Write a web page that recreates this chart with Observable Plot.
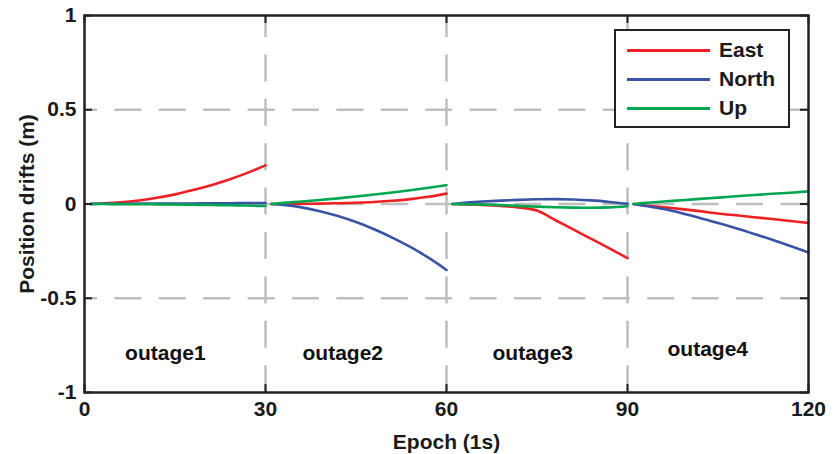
<!DOCTYPE html>
<html>
<head>
<meta charset="utf-8">
<script src="https://cdn.jsdelivr.net/npm/d3@7"></script>
<script src="https://cdn.jsdelivr.net/npm/@observablehq/plot@0.6"></script>
<style>
  html, body { margin: 0; padding: 0; background: #fff; }
  #wrap { position: relative; width: 839px; height: 454px; font-family: "Liberation Sans", Arial, sans-serif; }
  #legend { position: absolute; left: 614px; top: 29px; width: 172px; height: 95px; border: 2.5px solid #222; background: #fff; }
  .row { position: absolute; left: 0; height: 24px; display: flex; align-items: center; }
  .sw { width: 83px; height: 3px; margin-left: 11px; }
  .lab { margin-left: 9px; font-size: 21px; font-weight: bold; color: #1a1a1a; }
</style>
</head>
<body>
<div id="wrap"><div id="legend"></div></div>
<script>
// ---- data ----
const seriesNames = ["East", "North", "Up"];
const seriesColors = ["#ed2024", "#3953a5", "#00a650"];
const outageNames = ["outage1", "outage2", "outage3", "outage4"];
const outageStarts = [0, 30, 60, 90];
const epochOffsets = [1, 3, 6, 9, 12, 15, 18, 21, 24, 27, 30];
const outageLabelX = [13.4, 42.8, 74.3, 103.3];
const outageLabelY = [-0.79, -0.79, -0.79, -0.77];

const east = [
  [0, 0.003, 0.009, 0.019, 0.033, 0.051, 0.074, 0.100, 0.130, 0.165, 0.205],
  [0, 0.000, 0.001, 0.002, 0.004, 0.007, 0.011, 0.017, 0.026, 0.038, 0.055],
  [0, -0.002, -0.005, -0.010, -0.018, -0.035, -0.085, -0.135, -0.185, -0.235, -0.287],
  [0, -0.008, -0.017, -0.027, -0.038, -0.050, -0.060, -0.070, -0.080, -0.090, -0.100]
];
const north = [
  [0, 0.001, 0.001, 0.002, 0.002, 0.003, 0.003, 0.004, 0.004, 0.005, 0.005],
  [0, -0.005, -0.018, -0.038, -0.064, -0.096, -0.134, -0.178, -0.228, -0.285, -0.350],
  [0, 0.007, 0.013, 0.018, 0.022, 0.025, 0.026, 0.024, 0.019, 0.011, 0.001],
  [0, -0.010, -0.027, -0.049, -0.074, -0.101, -0.129, -0.159, -0.190, -0.223, -0.257]
];
const up = [
  [0, 0.000, -0.001, -0.001, -0.002, -0.003, -0.004, -0.005, -0.007, -0.008, -0.011],
  [0, 0.006, 0.013, 0.021, 0.030, 0.040, 0.050, 0.061, 0.073, 0.086, 0.100],
  [0, -0.001, -0.003, -0.006, -0.010, -0.014, -0.017, -0.019, -0.020, -0.018, -0.012],
  [0, 0.006, 0.013, 0.020, 0.027, 0.034, 0.041, 0.048, 0.054, 0.060, 0.067]
];

const xTicks = [0, 30, 60, 90, 120];
const xTickLabels = ["0", "30", "60", "90", "120"];
const yTicks = [-1, -0.5, 0, 0.5, 1];
const yTickLabels = ["-1", "-0.5", "0", "0.5", "1"];
const xGrid = [30, 60, 90];
const yGrid = [-0.5, 0, 0.5];
const xLabel = "Epoch (1s)";
const yLabel = "Position drifts (m)";

// ---- build table ----
const seriesValues = [east, north, up];
const rows = [];
seriesNames.forEach((s, si) => {
  outageStarts.forEach((start, oi) => {
    epochOffsets.forEach((off, k) => {
      rows.push({series: s, outage: oi, epoch: start + off, value: seriesValues[si][oi][k]});
    });
  });
});

const ink = "#222";
const gridStyle = {stroke: "#bebebe", strokeWidth: 2.5, strokeDasharray: "27,17.4"};
const fs = 21;

const chart = Plot.plot({
  width: 839,
  height: 454,
  marginLeft: 84,
  marginRight: 31,
  marginTop: 15,
  marginBottom: 62,
  style: {fontFamily: "'Liberation Sans', Arial, sans-serif", fontSize: fs + "px", fontWeight: "bold", color: "#1a1a1a", background: "#fff"},
  x: {domain: [0, 120]},
  y: {domain: [-1, 1]},
  color: {domain: seriesNames, range: seriesColors},
  marks: [
    Plot.ruleY(yGrid, {y: d => d, ...gridStyle, strokeDashoffset: 14}),
    Plot.ruleX(xGrid, {x: d => d, ...gridStyle, strokeDashoffset: 5}),
    Plot.line(rows, {x: "epoch", y: "value", z: d => d.series + "-" + d.outage, stroke: "series", strokeWidth: 2.6, curve: "monotone-x"}),
    Plot.text(outageNames, {x: (d, i) => outageLabelX[i], y: (d, i) => outageLabelY[i], text: d => d, fontSize: fs, fontWeight: "bold", fill: "#111"}),
    Plot.axisX({ticks: xTicks, tickSize: 0, tickPadding: 9, fontSize: fs, tickFormat: d => xTickLabels[xTicks.indexOf(d)], label: null}),
    Plot.axisY({ticks: yTicks, tickSize: 0, tickPadding: 8, fontSize: fs, tickFormat: d => yTickLabels[yTicks.indexOf(d)], label: null}),
    Plot.tickX(xTicks, {x: d => d, insetTop: 369, stroke: ink, strokeWidth: 2}),
    Plot.tickX(xTicks, {x: d => d, insetBottom: 369, stroke: ink, strokeWidth: 2}),
    Plot.tickY(yTicks, {y: d => d, insetRight: 716, stroke: ink, strokeWidth: 2}),
    Plot.tickY(yTicks, {y: d => d, insetLeft: 716, stroke: ink, strokeWidth: 2}),
    Plot.frame({stroke: ink, strokeWidth: 2.5}),
    Plot.text([xLabel], {frameAnchor: "bottom", dy: 50, lineAnchor: "middle", textAnchor: "middle", text: d => d, fontSize: fs, fontWeight: "bold", fill: "#1a1a1a"}),
    Plot.text([yLabel], {frameAnchor: "left", dx: -57, rotate: -90, textAnchor: "middle", lineAnchor: "middle", text: d => d, fontSize: fs, fontWeight: "bold", fill: "#1a1a1a"})
  ]
});
document.getElementById("wrap").prepend(chart);

// ---- legend ----
const legend = document.getElementById("legend");
seriesNames.forEach((s, i) => {
  const row = document.createElement("div");
  row.className = "row";
  row.style.top = (7 + i * 29) + "px";
  row.innerHTML = `<div class="sw" style="background:${seriesColors[i]}"></div><div class="lab">${s}</div>`;
  legend.appendChild(row);
});
</script>
</body>
</html>
